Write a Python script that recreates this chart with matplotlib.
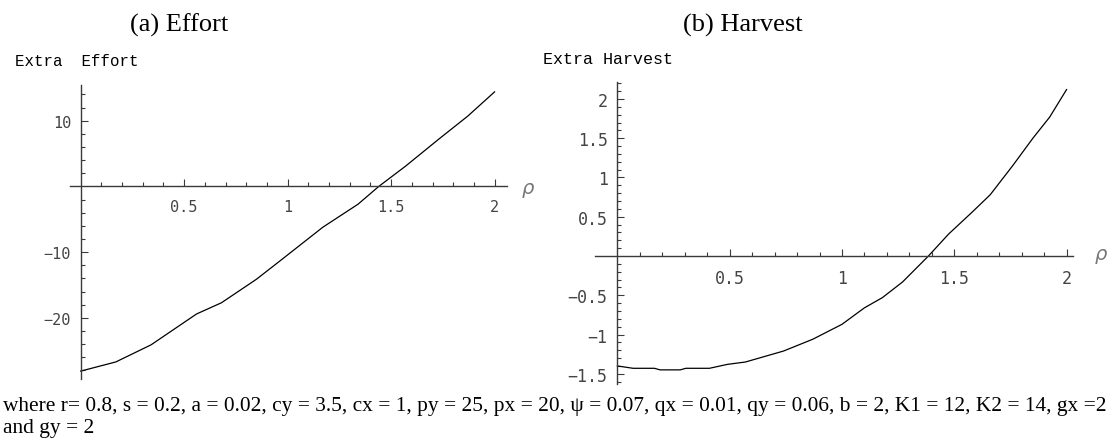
import numpy as np
import matplotlib
matplotlib.use("Agg")
import matplotlib.pyplot as plt
from matplotlib.ticker import FixedLocator

# Extra effort against rho (panel a)
rho_effort = [0.0, 0.17, 0.34, 0.56, 0.68, 0.85, 0.96, 1.17, 1.34, 1.44, 1.57, 1.73, 1.87, 2.0]
extra_effort = [-28.1, -26.7, -24.1, -19.4, -17.7, -14.1, -11.4, -6.2, -2.7, 0.0, 3.1, 7.2, 10.7, 14.4]

# Extra harvest against rho (panel b)
rho_harvest = [0.0, 0.07, 0.165, 0.19, 0.28, 0.305, 0.41, 0.49, 0.57, 0.74, 0.87, 1.0, 1.10,
               1.18, 1.27, 1.385, 1.475, 1.58, 1.66, 1.76, 1.85, 1.925, 2.0]
extra_harvest = [-1.40, -1.43, -1.43, -1.45, -1.45, -1.43, -1.43, -1.38, -1.35, -1.21, -1.06, -0.87, -0.66,
                 -0.53, -0.33, 0.0, 0.28, 0.56, 0.78, 1.15, 1.50, 1.77, 2.12]

x_major = [0.5, 1, 1.5, 2]
x_major_labels = ["0.5", "1", "1.5", "2"]
effort_major = [-20, -10, 10]
effort_major_labels = ["\u221220", "\u221210", "10"]
harvest_major = [-1.5, -1, -0.5, 0.5, 1, 1.5, 2]
harvest_major_labels = ["\u22121.5", "\u22121", "\u22120.5", "0.5", "1", "1.5", "2"]

caption = ("where r= 0.8, s = 0.2, a = 0.02, cy = 3.5, cx = 1, py = 25, px = 20, \u03c8 = 0.07, "
           "qx = 0.01, qy = 0.06, b = 2, K1 = 12, K2 = 14, gx =2\nand gy = 2")

W, H = 1109, 439
axis_col = "#3a3a3a"


def px_axes(fig, left, top, right, bottom):
    return fig.add_axes([left / W, 1 - bottom / H, (right - left) / W, (bottom - top) / H])


def style_axes(ax, xmin, xmax, ymin, ymax, xminor, yminor, yticks, ylabels, tsize):
    tick_font = {"family": "DejaVu Sans Mono", "size": tsize, "color": "#444444"}
    ax.set_xlim(xmin, xmax)
    ax.set_ylim(ymin, ymax)
    for side in ["top", "right"]:
        ax.spines[side].set_visible(False)
    for side in ["left", "bottom"]:
        ax.spines[side].set_position(("data", 0))
        ax.spines[side].set_color(axis_col)
        ax.spines[side].set_linewidth(1.0)
    ax.xaxis.set_major_locator(FixedLocator(x_major))
    ax.set_xticklabels(x_major_labels, fontdict=tick_font)
    ax.yaxis.set_major_locator(FixedLocator(yticks))
    ax.set_yticklabels(ylabels, fontdict=tick_font)
    ax.xaxis.set_minor_locator(FixedLocator(xminor))
    ax.yaxis.set_minor_locator(FixedLocator(yminor))
    ax.tick_params(which="both", direction="in", color=axis_col, width=0.8)
    ax.tick_params(which="major", length=5)
    ax.tick_params(which="minor", length=3)
    ax.tick_params(axis="x", which="major", pad=9)
    ax.tick_params(axis="y", which="major", pad=7)
    ax.patch.set_visible(False)


fig = plt.figure(figsize=(W / 100, H / 100), dpi=100)

# panel (a)
ax1 = px_axes(fig, 70.35, 86.3, 507, 380)
xminor = [round(0.1 * i, 1) for i in range(1, 21) if i % 5]
style_axes(ax1, -0.05, 2.06, -29.3, 15.4, xminor,
           [v for v in range(-28, 15, 2) if v % 10], effort_major, effort_major_labels, 11)
ax1.plot(rho_effort, extra_effort, color="black", lw=0.9)

# panel (b)
ax2 = px_axes(fig, 594.9, 82.7, 1073.3, 385)
style_axes(ax2, -0.10, 2.03, -1.63, 2.22, xminor,
           [round(0.1 * i, 1) for i in range(-16, 23) if i % 5], harvest_major, harvest_major_labels, 12)
ax2.plot(rho_harvest, extra_harvest, color="black", lw=0.9)

# titles, axis labels
fig.text(179 / W, 1 - 25 / H, "(a) Effort", family="Liberation Serif", size=19, ha="center", va="center")
fig.text(743 / W, 1 - 25 / H, "(b) Harvest", family="Liberation Serif", size=19, ha="center", va="center")
fig.text(15 / W, 1 - 62 / H, "Extra  Effort", family="Liberation Mono", size=11.3, ha="left", va="center")
fig.text(543 / W, 1 - 60 / H, "Extra Harvest", family="Liberation Mono", size=12, ha="left", va="center")
fig.text(528 / W, 1 - 189 / H, "\u03c1", family="DejaVu Sans", style="italic", size=14,
         color="#777777", ha="center", va="center")
fig.text(1101 / W, 1 - 255 / H, "\u03c1", family="DejaVu Sans", style="italic", size=14,
         color="#777777", ha="center", va="center")

# caption under the panels
fig.text(3 / W, 1 - 397 / H, caption, family="Liberation Serif", size=15.4, ha="left", va="top",
         linespacing=1.2)

fig.savefig("out.png", dpi=100)
